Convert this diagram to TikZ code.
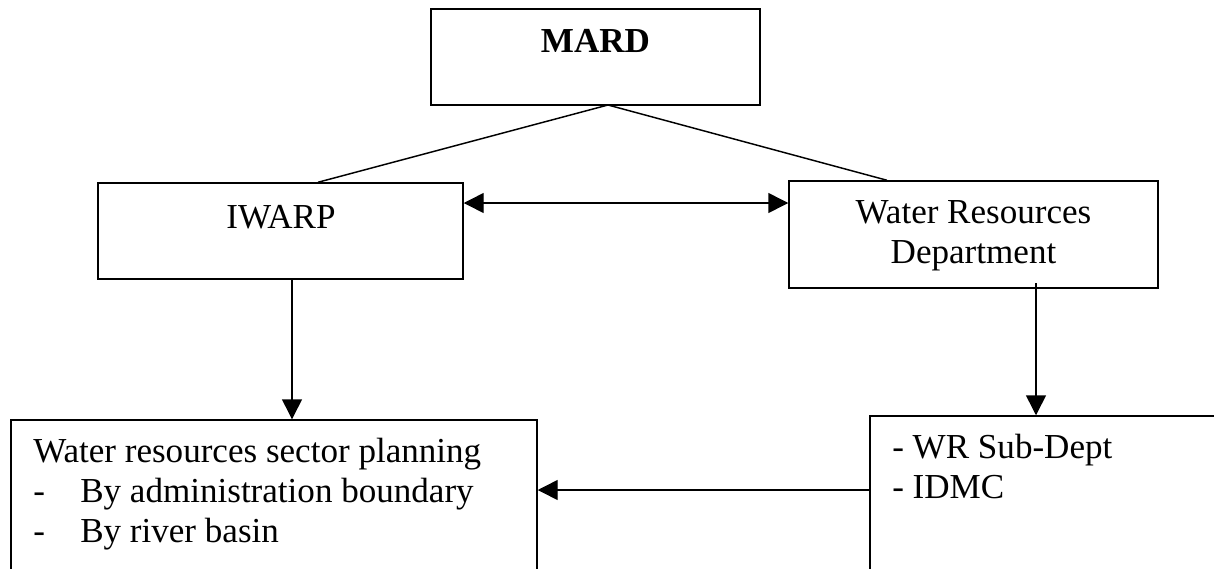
\documentclass[tikz,border=0pt]{standalone}
\usepackage{fontspec}
\setmainfont{Liberation Serif}
\usetikzlibrary{arrows.meta,fit,calc}
\begin{document}
\begin{tikzpicture}[x=0.75pt,y=-0.75pt,
  box/.style={draw,line width=1.1pt,inner sep=0pt,rectangle},
  lbl/.style={inner sep=0pt,font=\fontsize{26.3}{30}\selectfont},
  conn/.style={line width=1.1pt},
  arr/.style={line width=1.1pt,-{Triangle[length=15pt,width=15pt]}},
  darr/.style={line width=1.1pt,{Triangle[length=15pt,width=15pt]}-{Triangle[length=15pt,width=15pt]}}]
\useasboundingbox (0,0) rectangle (1214,568);
\clip (0,0) rectangle (1214,568);
% boxes
\node[box,fit={(431,9)(760,105)}] (mard) {};
\node[box,fit={(98,183)(463,279)}] (iwarp) {};
\node[box,fit={(789,181)(1158,288)}] (wrd) {};
\node[box,fit={(11,420)(537,620)}] (wsp) {};
\node[box,fit={(870,416)(1260,620)}] (sub) {};
% texts (base anchor = baseline of last line)
\node[lbl,anchor=base,font=\fontsize{26.3}{30}\selectfont\bfseries] (tmard) at (595.5,52) {MARD};
\node[lbl,anchor=base] (tiwarp) at (281,228) {IWARP};
\node[lbl,anchor=base,align=center] (twrd) at (973.5,263) {Water Resources\\Department};
\node[lbl,anchor=base west,align=left] (twsp) at (33,542) {Water resources sector planning\\\makebox[35.25pt][l]{-}By administration boundary\\\makebox[35.25pt][l]{-}By river basin};
\node[lbl,anchor=base west,align=left] (tsub) at (892,498) {- WR Sub-Dept\\- IDMC};
% connectors
\coordinate (apex) at (608,105);
\draw[conn] (apex) -- (iwarp.north west -| 318,0);
\draw[conn] (apex) -- (wrd.north west -| 887,0);
\draw[darr] (iwarp.east |- 0,203) -- (wrd.west |- 0,203);
\draw[arr] (iwarp.south -| 292,0) -- (wsp.north -| 292,0);
\coordinate (wrdout) at (1036,283);
\draw[arr] (wrdout) -- (sub.north -| wrdout);
\draw[arr] (sub.west |- 0,490) -- (wsp.east |- 0,490);
\end{tikzpicture}
\end{document}
